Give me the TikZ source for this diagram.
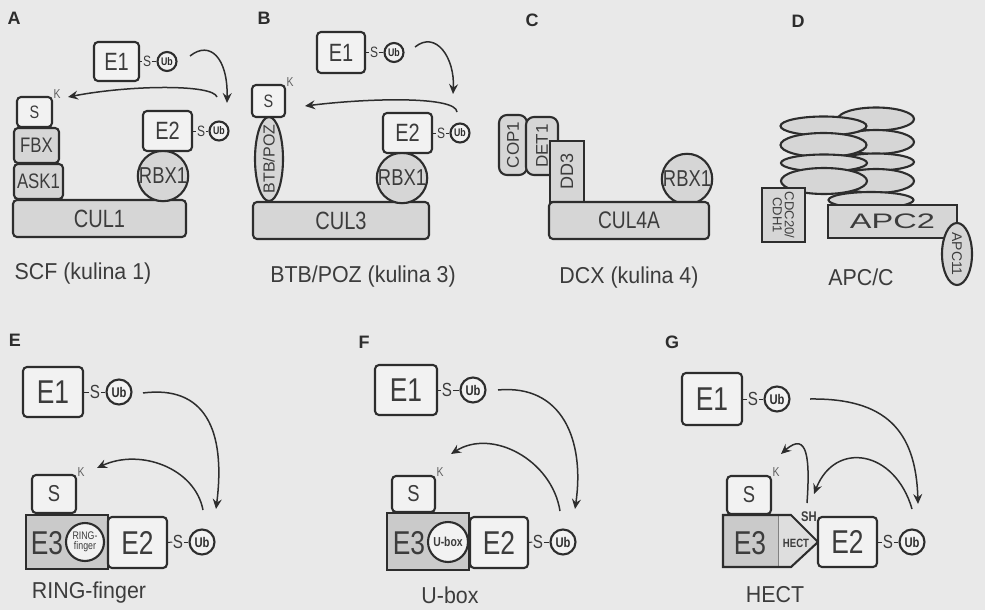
\documentclass[tikz,border=0pt]{standalone}
\usepackage{fontspec}
\usepackage{graphicx}
\setmainfont{Liberation Sans}
\newfontfamily\nf[FakeStretch=0.8]{Liberation Sans}
\newfontfamily\cf[FakeStretch=0.93]{Liberation Sans}
\newfontfamily\wf[FakeStretch=1.55]{Liberation Sans}
\usetikzlibrary{arrows.meta,shapes.geometric}
\definecolor{bgc}{RGB}{233,233,233}
\definecolor{lc}{RGB}{45,45,45}
\definecolor{tc}{RGB}{60,60,60}
\definecolor{efill}{RGB}{242,242,242}
\definecolor{gfill}{RGB}{214,214,214}
\definecolor{dfill}{RGB}{202,202,202}
\newcommand\fsz[1]{\fontsize{#1}{#1}\selectfont}
\tikzset{
 lnst/.style={draw=lc, line width=2.1pt},
 ebox/.style={lnst, rounded corners=4pt, fill=efill, inner sep=0pt, font=\nf\fsz{25}, text=tc},
 gbox/.style={lnst, rounded corners=4pt, fill=gfill, inner sep=0pt, font=\nf\fsz{21}, text=tc},
 sqbox/.style={lnst, fill=gfill, inner sep=0pt, text=tc},
 gcirc/.style={lnst, circle, fill=gfill, inner sep=0pt, minimum size=48pt, font=\nf\fsz{23}, text=tc},
 ub/.style={lnst, circle, fill=efill, inner sep=0pt, minimum size=19pt, font=\nf\bfseries\fsz{11}, text=lc},
 ubb/.style={ub, minimum size=25pt, font=\nf\bfseries\fsz{14}},
 sbond/.style={inner sep=0.5pt, font=\nf\fsz{15}, text=tc},
 sbondb/.style={inner sep=0.5pt, font=\nf\fsz{19}, text=tc},
 bond/.style={draw=lc, line width=1pt},
 kl/.style={inner sep=0pt, text=lc!75, font=\nf\fsz{13}},
 captxt/.style={inner sep=0pt, font=\cf\fsz{23}, text=tc},
 plab/.style={inner sep=0pt, font=\bfseries\fsz{18}, text=lc},
 rtxt/.style={inner sep=0pt, text=tc},
 arr/.style={draw=lc, line width=1.5pt, -{Stealth[length=10pt,width=9pt,inset=3.5pt]}},
 stack/.style={lnst, ellipse, fill=gfill, inner sep=0pt},
}
\begin{document}
\begin{tikzpicture}[x=1pt,y=-1pt]
\fill[bgc] (0,0) rectangle (985,610);
\useasboundingbox (0,0) rectangle (985,610);

% ---------------- Panel A ----------------
\node[plab] (Alab) at (14,18) {A};
\node[ebox, minimum width=45pt, minimum height=39pt] (Ae1) at (116.5,61.5) {E1};
\node[sbond] (As1) at (147,61.5) {S};
\node[ub] (Aub1) at (167,61.5) {Ub};
\draw[bond] (Ae1.east) -- (As1.west);
\draw[bond] (As1.east) -- (Aub1.west);
\node[gbox, minimum width=173pt, minimum height=37pt, font=\nf\fsz{25}] (Acul) at (99.5,218.5) {CUL1};
\node[gbox, minimum width=49pt, minimum height=35pt] (Aask) at (38.5,181.5) {ASK1};
\node[gbox, minimum width=45pt, minimum height=35pt] (Afbx) at (36.5,145.5) {FBX};
\node[ebox, minimum width=35pt, minimum height=30pt, font=\nf\fsz{18}] (As) at (34.5,112) {S};
\node[kl] (Ak) at (57,94) {K};
\node[gcirc] (Arbx) at (163,176) {RBX1};
\node[ebox, minimum width=49pt, minimum height=40pt] (Ae2) at (167.5,131) {E2};
\node[sbond] (As2) at (201,131) {S};
\node[ub] (Aub2) at (219,131) {Ub};
\draw[bond] (Ae2.east) -- (As2.west);
\draw[bond] (As2.east) -- (Aub2.west);
\coordinate (Aa1s) at (190,56);
\coordinate (Aa1e) at (227,103);
\coordinate (Aa2s) at (217,97);
\coordinate (Aa2e) at (68,97);
\draw[arr] (Aa1s) .. controls (210,40) and (228,58) .. (Aa1e);
\draw[arr] (Aa2s) .. controls (213,84) and (130,85) .. (Aa2e);
\node[captxt] (Acap) at (83,274) {SCF (kulina 1)};

% ---------------- Panel B ----------------
\node[plab] (Blab) at (264,18) {B};
\node[ebox, minimum width=48pt, minimum height=41pt] (Be1) at (341,52.5) {E1};
\node[sbond] (Bs1) at (374,52.5) {S};
\node[ub] (Bub1) at (394,52.5) {Ub};
\draw[bond] (Be1.east) -- (Bs1.west);
\draw[bond] (Bs1.east) -- (Bub1.west);
\node[gbox, minimum width=176pt, minimum height=37pt, font=\nf\fsz{25}] (Bcul) at (341,220.5) {CUL3};
\node[stack, minimum width=28pt, minimum height=84pt] (Bbtb) at (269,159) {};
\node[rtxt, rotate=90, font=\fsz{16}] (Bbtbt) at (Bbtb) {BTB/POZ};
\node[ebox, minimum width=33pt, minimum height=32pt, font=\nf\fsz{18}] (Bs) at (268.5,101) {S};
\node[kl] (Bk) at (290,82) {K};
\node[gcirc] (Brbx) at (402,178) {RBX1};
\node[ebox, minimum width=49pt, minimum height=40pt] (Be2) at (407.5,133) {E2};
\node[sbond] (Bs2) at (441,133) {S};
\node[ub] (Bub2) at (460,133) {Ub};
\draw[bond] (Be2.east) -- (Bs2.west);
\draw[bond] (Bs2.east) -- (Bub2.west);
\coordinate (Ba1s) at (415,47);
\coordinate (Ba1e) at (453,94);
\coordinate (Ba2s) at (457,112);
\coordinate (Ba2e) at (305,106);
\draw[arr] (Ba1s) .. controls (436,30) and (455,58) .. (Ba1e);
\draw[arr] (Ba2s) .. controls (456,96) and (370,98) .. (Ba2e);
\node[captxt] (Bcap) at (363,277) {BTB/POZ (kulina 3)};

% ---------------- Panel C ----------------
\node[plab] (Clab) at (532,20) {C};
\node[gbox, minimum width=28pt, minimum height=60pt, rounded corners=8pt] (Ccop) at (513,145) {};
\node[rtxt, rotate=90, font=\fsz{17}] (Ccopt) at (Ccop) {COP1};
\node[gbox, minimum width=32pt, minimum height=58pt, rounded corners=8pt] (Cdet) at (542,146) {};
\node[rtxt, rotate=90, font=\fsz{17}] (Cdett) at (Cdet) {DET1};
\node[sqbox, minimum width=34pt, minimum height=61pt] (Cdd) at (567,171.5) {};
\node[rtxt, rotate=90, font=\fsz{18}] (Cddt) at (Cdd) {DD3};
\node[gcirc, minimum size=49pt] (Crbx) at (687,179) {RBX1};
\node[gbox, minimum width=160pt, minimum height=37pt, font=\nf\fsz{24}] (Ccul) at (629,220.5) {CUL4A};
\node[captxt] (Ccap) at (629,278) {DCX (kulina 4)};

% ---------------- Panel D ----------------
\node[plab] (Dlab) at (798,21) {D};
\node[stack, minimum width=76pt, minimum height=23pt] (Dr1) at (876,119) {};
\node[stack, minimum width=76pt, minimum height=24pt] (Dr2) at (876,142) {};
\node[stack, minimum width=76pt, minimum height=17pt] (Dr3) at (876,162) {};
\node[stack, minimum width=76pt, minimum height=24pt] (Dr4) at (876,181) {};
\node[stack, minimum width=85pt, minimum height=16pt] (Dr5) at (871,200) {};
\node[stack, minimum width=86pt, minimum height=19pt] (Dl1) at (823.5,126) {};
\node[stack, minimum width=86pt, minimum height=24pt] (Dl2) at (823.5,145) {};
\node[stack, minimum width=86pt, minimum height=17pt] (Dl3) at (824,163) {};
\node[stack, minimum width=86pt, minimum height=26pt] (Dl4) at (824,181) {};
\node[sqbox, minimum width=43pt, minimum height=54pt] (Dcdc) at (783.5,215) {};
\node[rtxt, rotate=-90, align=center, font=\fsz{13}] (Dcdct) at (Dcdc) {CDC20/\\[-1pt]CDH1};
\node[sqbox, minimum width=129pt, minimum height=33pt, font=\wf\fsz{21}] (Dapc2) at (892.5,221.5) {APC2};
\node[stack, minimum width=30pt, minimum height=62pt] (Dapc11) at (957,254) {};
\node[rtxt, rotate=-90, font=\fsz{14}] (Dapc11t) at (Dapc11) {APC11};
\node[captxt] (Dcap) at (861,277) {APC/C};

% ---------------- Panel E ----------------
\node[plab] (Elab) at (15,340) {E};
\node[ebox, minimum width=60pt, minimum height=50pt, font=\nf\fsz{33}] (Ee1) at (53,392) {E1};
\node[sbondb] (Es1) at (95,392) {S};
\node[ubb] (Eub1) at (119,392) {Ub};
\draw[bond] (Ee1.east) -- (Es1.west);
\draw[bond] (Es1.east) -- (Eub1.west);
\node[ebox, minimum width=44pt, minimum height=38pt, font=\nf\fsz{23}] (Es) at (54,494) {S};
\node[kl] (Ek) at (81,472) {K};
\node[sqbox, fill=dfill, minimum width=82pt, minimum height=54pt] (Ee3) at (67,542) {};
\node[rtxt, font=\nf\fsz{33}] (Ee3t) at (47,543) {E3};
\node[lnst, circle, fill=efill, inner sep=0pt, minimum size=38pt, align=center, font=\nf\fsz{11}, text=tc] (Ering) at (85,542) {RING-\\[-1pt]finger};
\node[ebox, minimum width=59pt, minimum height=51pt, font=\nf\fsz{33}] (Ee2) at (137.5,542.5) {E2};
\node[sbondb] (Es2) at (178,542) {S};
\node[ubb] (Eub2) at (202,542) {Ub};
\draw[bond] (Ee2.east) -- (Es2.west);
\draw[bond] (Es2.east) -- (Eub2.west);
\coordinate (Ea1s) at (143,393);
\coordinate (Ea1e) at (216,509);
\coordinate (Ea2s) at (203,510);
\coordinate (Ea2e) at (97,468);
\draw[arr] (Ea1s) .. controls (205,385) and (226,430) .. (Ea1e);
\draw[arr] (Ea2s) .. controls (195,468) and (140,448) .. (Ea2e);
\node[captxt] (Ecap) at (89,593) {RING-finger};

% ---------------- Panel F ----------------
\node[plab] (Flab) at (364,342) {F};
\node[ebox, minimum width=62pt, minimum height=50pt, font=\nf\fsz{33}] (Fe1) at (406,390) {E1};
\node[sbondb] (Fs1) at (447,390) {S};
\node[ubb] (Fub1) at (473,390) {Ub};
\draw[bond] (Fe1.east) -- (Fs1.west);
\draw[bond] (Fs1.east) -- (Fub1.west);
\node[ebox, minimum width=43pt, minimum height=36pt, font=\nf\fsz{23}] (Fs) at (413.5,494) {S};
\node[kl] (Fk) at (440,472) {K};
\node[sqbox, fill=dfill, minimum width=82pt, minimum height=57pt] (Fe3) at (428,541.5) {};
\node[rtxt, font=\nf\fsz{33}] (Fe3t) at (409,543) {E3};
\node[lnst, circle, fill=efill, inner sep=0pt, minimum size=40pt, font=\nf\bfseries\fsz{13}, text=tc] (Fubox) at (448,542) {U-box};
\node[ebox, minimum width=58pt, minimum height=51pt, font=\nf\fsz{33}] (Fe2) at (499,542.5) {E2};
\node[sbondb] (Fs2) at (538,542) {S};
\node[ubb] (Fub2) at (563,542) {Ub};
\draw[bond] (Fe2.east) -- (Fs2.west);
\draw[bond] (Fs2.east) -- (Fub2.west);
\coordinate (Fa1s) at (498,390);
\coordinate (Fa1e) at (575,509);
\coordinate (Fa2s) at (560,511);
\coordinate (Fa2e) at (451,454);
\draw[arr] (Fa1s) .. controls (562,384) and (585,440) .. (Fa1e);
\draw[arr] (Fa2s) .. controls (552,460) and (492,428) .. (Fa2e);
\node[captxt] (Fcap) at (450,595) {U-box};

% ---------------- Panel G ----------------
\node[plab] (Glab) at (672,342) {G};
\node[ebox, minimum width=60pt, minimum height=52pt, font=\nf\fsz{33}] (Ge1) at (712,399) {E1};
\node[sbondb] (Gs1) at (753,399) {S};
\node[ubb] (Gub1) at (777,399) {Ub};
\draw[bond] (Ge1.east) -- (Gs1.west);
\draw[bond] (Gs1.east) -- (Gub1.west);
\node[ebox, minimum width=44pt, minimum height=38pt, font=\nf\fsz{23}] (Gs) at (749,495) {S};
\node[kl] (Gk) at (776,472) {K};
\fill[dfill] (723,515) rectangle (778,567);
\fill[gfill!70!efill] (778,515) -- (791,515) -- (818,542) -- (791,567) -- (778,567) -- cycle;
\draw[draw=lc!60, line width=0.6pt] (778,515) -- (778,567);
\draw[lnst, line join=miter] (723,515) -- (791,515) -- (818,542) -- (791,567) -- (723,567) -- cycle;
\node[rtxt, font=\nf\fsz{33}] (Ge3t) at (750,543) {E3};
\node[rtxt, font=\nf\bfseries\fsz{12}] (Ghect) at (796,543) {HECT};
\node[rtxt, font=\nf\bfseries\fsz{14}] (Gsh) at (809,517) {SH};
\node[ebox, minimum width=59pt, minimum height=50pt, font=\nf\fsz{33}] (Ge2) at (847.5,542) {E2};
\node[sbondb] (Gs2) at (888,542) {S};
\node[ubb] (Gub2) at (912,542) {Ub};
\draw[bond] (Ge2.east) -- (Gs2.west);
\draw[bond] (Gs2.east) -- (Gub2.west);
\coordinate (Ga1s) at (810,399);
\coordinate (Ga1e) at (918,504);
\coordinate (Ga2s) at (912,509);
\coordinate (Ga2e) at (814,494);
\coordinate (Ga3s) at (807,503);
\coordinate (Ga3e) at (781,454);
\draw[arr] (Ga1s) .. controls (885,398) and (916,430) .. (Ga1e);
\draw[arr] (Ga2s) .. controls (895,450) and (835,440) .. (Ga2e);
\draw[arr] (Ga3s) .. controls (810,460) and (808,430) .. (Ga3e);
\node[captxt] (Gcap) at (775,595) {HECT};
\end{tikzpicture}
\end{document}
